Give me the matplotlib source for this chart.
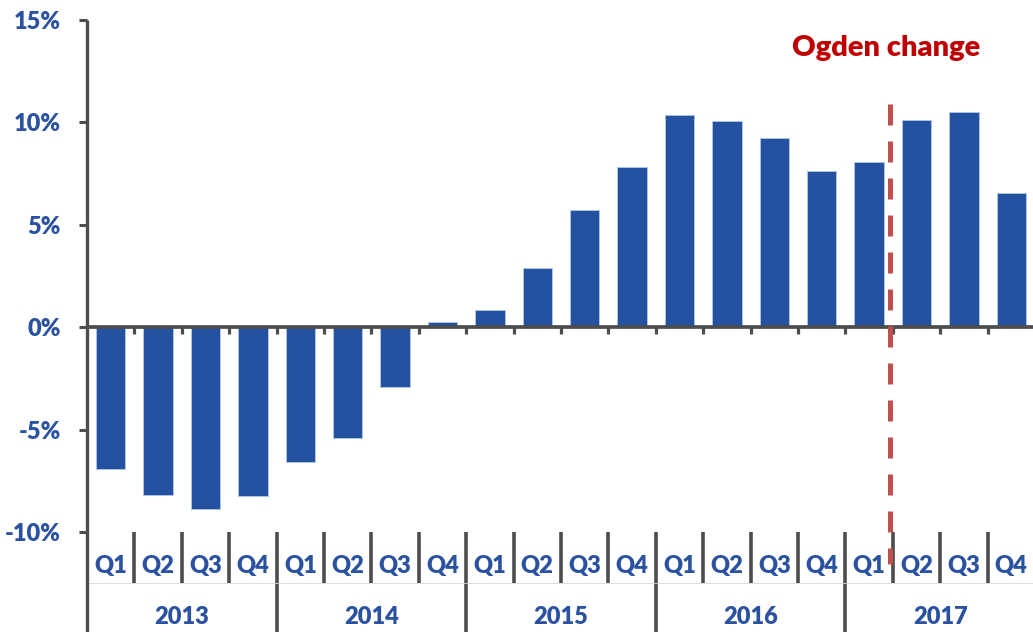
import matplotlib
matplotlib.use("Agg")
import matplotlib.pyplot as plt
import matplotlib.transforms as mtransforms

# ---- data ----
years = ["2013", "2014", "2015", "2016", "2017"]
quarters = ["Q1", "Q2", "Q3", "Q4"]
values = [-6.9, -8.2, -8.9, -8.25,
          -6.6, -5.4, -2.9, 0.23,
          0.85, 2.87, 5.7, 7.82,
          10.35, 10.06, 9.25, 7.63,
          8.08, 10.14, 10.5, 6.54]
yticks = [-10, -5, 0, 5, 10, 15]
ytick_labels = ["-10%", "-5%", "0%", "5%", "10%", "15%"]
event_label = "Ogden change"
event_pos = 16.45  # between 2017 Q1 and Q2

BLUE_BAR = "#2451A0"
BLUE_TXT = "#2B52A0"
GREY = "#4D4D4D"
RED_LINE = "#C0504D"
RED_TXT = "#C00000"
FONT = "Lato"
WEIGHT = "heavy"

W, H = 1033, 632
fig = plt.figure(figsize=(W / 100, H / 100), dpi=100)
left_px, right_px, top_px, bot_px = 87, 1035, 20, 532
ax = fig.add_axes([left_px / W, (H - bot_px) / H,
                   (right_px - left_px) / W, (bot_px - top_px) / H])

n = len(values)
x = list(range(n))
ax.bar(x, values, width=0.62, color=BLUE_BAR, edgecolor="#AFC3E6",
       linewidth=0.7, zorder=2)

ax.set_xlim(-0.5, n - 0.5)
ax.set_ylim(-10, 15)

for s in ["top", "right", "bottom", "left"]:
    ax.spines[s].set_visible(False)

ax.set_xticks([])
ax.set_yticks(yticks)
ax.set_yticklabels(ytick_labels)
ax.tick_params(axis="y", direction="out", length=6, width=2.2, color=GREY,
               pad=13, labelsize=17, labelcolor=BLUE_TXT)
for lab in ax.get_yticklabels():
    lab.set_fontfamily(FONT)
    lab.set_fontweight(WEIGHT)

# left axis line extending below the plot
ax.plot([0, 0], [1, -0.22], transform=ax.transAxes, color=GREY, lw=2.4,
        clip_on=False, zorder=3, solid_capstyle="butt")

# zero line
ax.axhline(0, color=GREY, lw=2.7, zorder=3)
# small ticks at category boundaries below zero line
bounds = [i + 0.5 for i in range(n - 1)] + [n - 0.5]
ax.vlines(bounds, -0.35, 0, color=GREY, lw=2.3, zorder=3)

# category labels (multi-level)
trans = mtransforms.blended_transform_factory(ax.transData, ax.transAxes)
q_y = -0.066
y_y = -0.166
for i in range(n):
    ax.text(i, q_y, quarters[i % 4], transform=trans, ha="center", va="center",
            fontsize=17, fontweight=WEIGHT, color=BLUE_TXT, family=FONT)
for k, yr in enumerate(years):
    ax.text(k * 4 + 1.5, y_y, yr, transform=trans, ha="center", va="center",
            fontsize=17, fontweight=WEIGHT, color=BLUE_TXT, family=FONT)

for i in range(1, n + 1):
    b = i - 0.5
    is_year = (i % 4 == 0)
    ax.plot([b, b], [0, -0.22 if is_year else -0.1], transform=trans,
            color=GREY, lw=2.6, clip_on=False, solid_capstyle="butt")
# faint line under quarter row
ax.plot([-0.5, n - 0.5], [-0.1, -0.1], transform=trans, color="#D8D8D8",
        lw=0.6, clip_on=False)

# event line
ax.plot([event_pos, event_pos], [0.835, -0.062], transform=trans,
        color=RED_LINE, lw=3.6, dashes=(4.2, 3.2), clip_on=False, zorder=4)
ax.text(event_pos - 0.1, 0.945, event_label, transform=trans, ha="center",
        va="center", fontsize=21, fontweight=WEIGHT, color=RED_TXT, family=FONT)

fig.savefig("out.png", dpi=100)
